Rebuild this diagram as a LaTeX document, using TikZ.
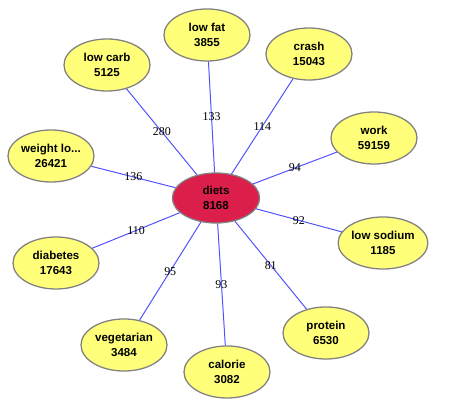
\documentclass[tikz,border=0pt]{standalone}
\usepackage{fontspec}
\setmainfont{Liberation Serif}
\newfontfamily\nodefont{Liberation Sans}
\usetikzlibrary{shapes.geometric}

\definecolor{termyellow}{RGB}{255,255,122}
\definecolor{termred}{RGB}{220,30,75}
\definecolor{edgeblue}{RGB}{80,80,255}

\newcommand{\cut}{...}

\tikzset{
  term/.style={draw=gray, line width=0.9pt, ellipse, fill=termyellow,
    minimum width=2.15cm, minimum height=1.3cm, inner sep=0pt,
    align=center, font=\nodefont\bfseries\fontsize{8.2}{10.3}\selectfont},
  hub/.style={term, fill=termred, minimum width=2.18cm, minimum height=1.25cm},
  edge/.style={draw=edgeblue, line width=0.7pt},
  weight/.style={font=\fontsize{8.5}{9}\selectfont, inner sep=0pt}
}

\begin{document}
\begin{tikzpicture}[x=0.025cm, y=-0.025cm]

        % Fix the canvas
        \useasboundingbox (0,0) rectangle (450,400);

        % Centre node
        \node[hub] (diets) at (216,198) {diets\\8168};

        % Place the related terms around it
        \foreach \name/\x/\y/\txt/\num in {
            lowfat/207/35/low fat/3855,
            crash/309/54/crash/15043,
            lowcarb/107/65/low carb/5125,
            work/374/138/work/59159,
            weight/51/156/weight lo\cut/26421,
            lowsodium/383/243/low sodium/1185,
            diabetes/56/263/diabetes/17643,
            vegetarian/124/345/vegetarian/3484,
            calorie/227/372/calorie/3082,
            protein/326/333/protein/6530} {
            \node[term] (\name) at (\x,\y) {\txt\\\num};
        }

        % Connect each term to the centre
        \foreach \name/\w in {lowfat/133, crash/114, lowcarb/280, work/94,
            weight/136, lowsodium/92, diabetes/110, vegetarian/95,
            calorie/93, protein/81} {
            \draw[edge] (diets) -- node[weight] {\w} (\name);
        }
    \end{tikzpicture}
\end{document}
